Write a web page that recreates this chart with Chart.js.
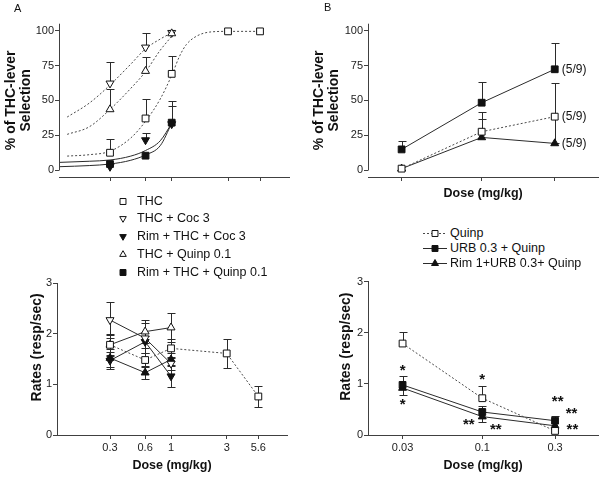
<!DOCTYPE html>
<html lang="en">
<head>
<meta charset="utf-8">
<title>THC-lever selection and response rates</title>
<script src="https://cdn.jsdelivr.net/npm/chart.js@4.4.1/dist/chart.umd.min.js"></script>
<style>
  html, body { margin: 0; padding: 0; background: #fff; }
  #fig { position: relative; width: 604px; height: 477px; overflow: hidden;
         font-family: Arial, "Liberation Sans", Helvetica, sans-serif; color: #111; }
  #fig canvas.plot { position: absolute; }
  .tag { position: absolute; font-size: 11px; line-height: 1; }
  .key { position: absolute; font-size: 12.5px; line-height: 16px; white-space: nowrap; }
</style>
</head>
<body>
<div id="fig">
  <canvas id="pctA" class="plot" width="300" height="200" style="left:0;top:0"></canvas>
  <canvas id="pctB" class="plot" width="304" height="205" style="left:300px;top:0"></canvas>
  <canvas id="rateA" class="plot" width="300" height="207" style="left:0;top:270px"></canvas>
  <canvas id="rateB" class="plot" width="304" height="207" style="left:300px;top:270px"></canvas>
  <div class="tag" style="left:14px;top:3px">A</div>
  <div class="tag" style="left:324px;top:2px">B</div>
  <div id="keyA"></div>
  <div id="keyB"></div>
</div>
<script>
// ---------- data ----------

const seriesA = ['THC', 'THC + Coc 3', 'Rim + THC + Coc 3', 'THC + Quinp 0.1', 'Rim + THC + Quinp 0.1'];
const seriesB = ['Quinp', 'URB 0.3 + Quinp', 'Rim 1+URB 0.3+ Quinp'];

const dosesA = [0.3, 0.6, 1, 3, 5.6];
const doseLabelsA = ['0.3', '0.6', '1', '3', '5.6'];
const dosesB = [0.03, 0.1, 0.3];
const doseLabelsB = ['0.03', '0.1', '0.3'];
const pctTicks = [0, 25, 50, 75, 100];
const rateTicks = [0, 1, 2, 3];

// panel A, % THC-lever selection (SEM shown upward only)
const thcPct = [12.4, 37, 69, 99.5, 99.5];
const thcPctErr = [9.6, 14, 13, 0, 0];
const cocPct = [62.2, 88, 98.5];
const cocPctErr = [15, 10.6, 0];
const rimCocPct = [2.4, 21.5, 33];
const rimCocPctErr = [0, 5, 13];
const quinpPct = [43.5, 71, 98];
const quinpPctErr = [14.5, 10, 0];
const rimQuinpPct = [4.3, 10.3, 34];
const rimQuinpPctErr = [0, 0, 15.5];

// fitted dose-effect curves
const fitDoses = [0.13, 0.2, 0.3, 0.45, 0.6, 0.8, 1];
const thcFitDoses = [0.13, 0.2, 0.3, 0.45, 0.6, 0.8, 1, 1.17, 1.33, 1.62, 2.1, 3, 5.6];
const thcFit = [10, 11, 13.5, 23, 35, 51, 68, 82, 90, 96, 99, 99.5, 99.5];
const cocFit = [38, 48, 61, 76, 87, 94, 98.5];
const quinpFit = [25.6, 31, 43.5, 58.6, 70.6, 86, 96];
const rimFitDoses = [0.113, 0.2, 0.3, 0.45, 0.6, 0.8, 1];
const rimCocFit = [5.5, 6.3, 7.2, 10, 14, 21, 33.5];
const rimQuinpFit = [2.4, 3.2, 4.3, 7, 10.8, 17.5, 33.5];

// panel A, response rates (resp/sec, +/- SEM)
const thcRate = [1.78, 1.48, 1.71, 1.61, 0.76];
const thcRateErr = [0.22, 0.13, 0.19, 0.28, 0.21];
const cocRate = [2.27, 1.91, 1.41];
const cocRateErr = [0.36, 0.3, 0.12];
const rimCocRate = [1.47, 1.84, 1.16];
const rimCocRateErr = [0.16, 0.12, 0.22];
const quinpRate = [1.78, 2.04, 2.12];
const quinpRateErr = [0.2, 0.23, 0.28];
const rimQuinpRate = [1.52, 1.23, 1.49];
const rimQuinpRateErr = [0.18, 0.13, 0.13];

// panel B, % THC-lever selection
const quinpPctB = [1, 27.5, 38.3];
const quinpPctBUp = [0, 14, 24.4];
const quinpPctBDown = [0, 0, 19.2];
const urbPctB = [14.8, 48.3, 72.3];
const urbPctBUp = [6.2, 15.1, 19.1];
const rimUrbPctB = [1, 23.4, 19.1];
const rimUrbPctBUp = [0, 13.5, 0];
const respondersB = ['(5/9)', '(5/9)', '(5/9)'];

// panel B, response rates
const quinpRateB = [1.79, 0.72, 0.08];
const quinpRateBUp = [0.23, 0.23, 0];
const urbRateB = [0.98, 0.45, 0.28];
const urbRateBUp = [0.18, 0.11, 0.09];
const rimUrbRateB = [0.92, 0.36, 0.18];
const rimUrbRateBDown = [0.13, 0.1, 0];

// significance marks: [dose, rate, text]
const starNotes = [
  [0.03, 1.305, '*'], [0.03, 0.65, '*'], [0.1, 1.14, '*'],
  [0.0815, 0.26, '**'], [0.1225, 0.15, '**'],
  [0.312, 0.70, '**'], [0.385, 0.475, '**'], [0.39, 0.16, '**']
];

// ---------- look ----------
const INK = '#111';
const AXIS = '#404040';
const LINE = '#2b2b2b';
const DOT = '#4a4a4a';
const FONT = 'Arial, "Liberation Sans", Helvetica, sans-serif';

Chart.defaults.font.family = FONT;
Chart.defaults.color = INK;

const pts = (xs, ys) => ys.map((y, i) => ({ x: xs[i], y }));

const marker = (style, filled, rot, r) => ({
  pointStyle: style,
  pointRotation: rot,
  pointRadius: r,
  pointHoverRadius: r,
  pointBackgroundColor: filled ? INK : '#fff',
  pointBorderColor: INK,
  pointBorderWidth: 1
});

const openSq = marker('rect', false, 0, 4.8);
const fillSq = marker('rect', true, 0, 4.8);
const openDown = marker('triangle', false, 180, 4.6);
const fillDown = marker('triangle', true, 180, 4.6);
const openUp = marker('triangle', false, 0, 4.6);
const fillUp = marker('triangle', true, 0, 4.6);

const solid = { showLine: true, borderColor: LINE, borderWidth: 1 };
const dotted = { showLine: true, borderColor: DOT, borderWidth: 1, borderDash: [2, 2] };

function fitLine(xs, ys, dashed) {
  return {
    data: pts(xs, ys),
    ...(dashed ? dotted : solid),
    pointRadius: 0,
    pointHoverRadius: 0,
    tension: 0.4,
    cubicInterpolationMode: 'monotone'
  };
}

// ---------- plugins ----------
const errorBars = {
  id: 'errorBars',
  beforeDatasetsDraw(chart) {
    const { ctx, scales: { x, y } } = chart;
    ctx.save();
    ctx.strokeStyle = LINE;
    ctx.lineWidth = 1;
    chart.data.datasets.forEach(ds => {
      ds.data.forEach((p, j) => {
        const px = Math.round(x.getPixelForValue(p.x)) + 0.5;
        const py = y.getPixelForValue(p.y);
        [[ds.errUp, 1], [ds.errDown, -1]].forEach(([errs, dir]) => {
          const e = errs ? errs[j] : 0;
          if (!e) return;
          const ey = Math.round(y.getPixelForValue(p.y + dir * e)) + 0.5;
          ctx.beginPath();
          ctx.moveTo(px, py);
          ctx.lineTo(px, ey);
          ctx.moveTo(px - 4, ey);
          ctx.lineTo(px + 4, ey);
          ctx.stroke();
        });
      });
    });
    ctx.restore();
  }
};

// y axis line that stops at 0 (x axis sits a little lower)
const yStub = {
  id: 'yStub',
  afterDraw(chart) {
    const { ctx, chartArea, scales: { y } } = chart;
    const x = Math.round(chartArea.left - 0.5) + 0.5;
    ctx.save();
    ctx.strokeStyle = AXIS;
    ctx.lineWidth = 1;
    ctx.beginPath();
    ctx.moveTo(x, Math.round(y.getPixelForValue(0)) + 0.5);
    ctx.lineTo(x, chartArea.top);
    ctx.stroke();
    ctx.restore();
  }
};

const endLabels = {
  id: 'endLabels',
  afterDatasetsDraw(chart) {
    const { ctx, scales: { x, y } } = chart;
    ctx.save();
    ctx.font = '12px ' + FONT;
    ctx.fillStyle = INK;
    ctx.textBaseline = 'middle';
    chart.data.datasets.forEach(ds => {
      if (!ds.endLabel) return;
      const p = ds.data[ds.data.length - 1];
      ctx.fillText(ds.endLabel, x.getPixelForValue(p.x) + 7, y.getPixelForValue(p.y));
    });
    ctx.restore();
  }
};

const starMarks = items => ({
  id: 'starMarks',
  afterDatasetsDraw(chart) {
    const { ctx, scales: { x, y } } = chart;
    ctx.save();
    ctx.font = 'bold 15px ' + FONT;
    ctx.fillStyle = INK;
    ctx.textAlign = 'center';
    ctx.textBaseline = 'alphabetic';
    items.forEach(([d, v, s]) => {
      const m = ctx.measureText(s);
      const off = (m.actualBoundingBoxAscent - m.actualBoundingBoxDescent) / 2;
      ctx.fillText(s, x.getPixelForValue(d), y.getPixelForValue(v) + off);
    });
    ctx.restore();
  }
});

// ---------- axes ----------
function doseAxis(min, max, ticks, labels, height, title) {
  return {
    type: 'logarithmic',
    min, max,
    afterBuildTicks: s => { s.ticks = ticks.map(v => ({ value: v })); },
    afterFit: s => { s.height = height; },
    grid: { drawOnChartArea: false, drawTicks: true, tickLength: 4, color: AXIS },
    border: { display: true, color: AXIS },
    ticks: {
      display: !!labels, autoSkip: false, maxRotation: 0, padding: 2,
      color: '#222', font: { size: 11 },
      callback: (v, i) => (labels ? labels[i] : '')
    },
    title: {
      display: !!title, text: title || '', color: INK,
      font: { size: 12.5, weight: 'bold' },
      padding: { top: 0, bottom: 3.6 }
    }
  };
}

function valueAxis(min, max, ticks, width, title, titlePad, border) {
  return {
    type: 'linear',
    min, max,
    afterBuildTicks: s => { s.ticks = ticks.map(v => ({ value: v })); },
    afterFit: s => { s.width = width; },
    grid: { drawOnChartArea: false, drawTicks: true, tickLength: 4, color: AXIS },
    border: { display: border, color: AXIS },
    ticks: { padding: 1, color: '#222', font: { size: 11 } },
    title: {
      display: true, text: title, color: INK,
      font: { size: 14, weight: 'bold', lineHeight: 1.1 },
      padding: { top: titlePad, bottom: 0 }
    }
  };
}

function baseOptions(padding, x, y) {
  return {
    responsive: false,
    animation: false,
    devicePixelRatio: 1,
    layout: { padding },
    scales: { x, y },
    plugins: { legend: { display: false }, tooltip: { enabled: false } },
    events: []
  };
}

// ---------- panel A, % THC-lever ----------
new Chart(document.getElementById('pctA'), {
  type: 'scatter',
  data: {
    datasets: [
      { label: seriesA[2], data: pts(dosesA, rimCocPct), errUp: rimCocPctErr, showLine: false, ...fillDown },
      { label: seriesA[4], data: pts(dosesA, rimQuinpPct), errUp: rimQuinpPctErr, showLine: false, ...fillSq },
      { label: seriesA[0], data: pts(dosesA, thcPct), errUp: thcPctErr, showLine: false, ...openSq },
      { label: seriesA[3], data: pts(dosesA, quinpPct), errUp: quinpPctErr, showLine: false, ...openUp },
      { label: seriesA[1], data: pts(dosesA, cocPct), errUp: cocPctErr, showLine: false, ...openDown },
      fitLine(thcFitDoses, thcFit, true),
      fitLine(fitDoses, cocFit, true),
      fitLine(fitDoses, quinpFit, true),
      fitLine(rimFitDoses, rimCocFit, false),
      fitLine(rimFitDoses, rimQuinpFit, false)
    ]
  },
  options: baseOptions(
    { left: 0, right: 11, top: 23.7, bottom: 0 },
    doseAxis(0.1109, 9.86, dosesA, null, 23, null),
    valueAxis(-5, 105, pctTicks, 59, ['% of THC-lever', 'Selection'], 3.3, false)
  ),
  plugins: [errorBars, yStub]
});

// ---------- panel B, % THC-lever ----------
new Chart(document.getElementById('pctB'), {
  type: 'scatter',
  data: {
    datasets: [
      { label: seriesB[0], data: pts(dosesB, quinpPctB), errUp: quinpPctBUp, errDown: quinpPctBDown,
        endLabel: respondersB[0], ...dotted, ...openSq },
      { label: seriesB[1], data: pts(dosesB, urbPctB), errUp: urbPctBUp,
        endLabel: respondersB[1], ...solid, ...fillSq },
      { label: seriesB[2], data: pts(dosesB, rimUrbPctB), errUp: rimUrbPctBUp,
        endLabel: respondersB[2], ...solid, ...fillUp }
    ]
  },
  options: baseOptions(
    { left: 0, right: 3, top: 23.7, bottom: 0 },
    doseAxis(0.0181, 0.5767, dosesB, null, 28, 'Dose (mg/kg)'),
    valueAxis(-5, 105, pctTicks, 68, ['% of THC-lever', 'Selection'], 11.3, false)
  ),
  plugins: [errorBars, yStub, endLabels]
});

// ---------- panel A, rates ----------
new Chart(document.getElementById('rateA'), {
  type: 'scatter',
  data: {
    datasets: [
      { label: seriesA[0], data: pts(dosesA, thcRate), errUp: thcRateErr, errDown: thcRateErr, ...dotted, ...openSq },
      { label: seriesA[1], data: pts(dosesA, cocRate), errUp: cocRateErr, errDown: cocRateErr, ...solid, ...openDown },
      { label: seriesA[3], data: pts(dosesA, quinpRate), errUp: quinpRateErr, errDown: quinpRateErr, ...solid, ...openUp },
      { label: seriesA[2], data: pts(dosesA, rimCocRate), errUp: rimCocRateErr, errDown: rimCocRateErr, ...solid, ...fillDown },
      { label: seriesA[4], data: pts(dosesA, rimQuinpRate), errUp: rimQuinpRateErr, errDown: rimQuinpRateErr, ...solid, ...fillUp }
    ]
  },
  options: baseOptions(
    { left: 0, right: 13, top: 13, bottom: 0 },
    doseAxis(0.1054, 9.86, dosesA, doseLabelsA, 42, 'Dose (mg/kg)'),
    valueAxis(0, 3, rateTicks, 57, '      Rates (resp/sec)', 29.3, true)
  ),
  plugins: [errorBars]
});

// ---------- panel B, rates ----------
new Chart(document.getElementById('rateB'), {
  type: 'scatter',
  data: {
    datasets: [
      { label: seriesB[0], data: pts(dosesB, quinpRateB), errUp: quinpRateBUp, ...dotted, ...openSq },
      { label: seriesB[1], data: pts(dosesB, urbRateB), errUp: urbRateBUp, ...solid, ...fillSq },
      { label: seriesB[2], data: pts(dosesB, rimUrbRateB), errDown: rimUrbRateBDown, ...solid, ...fillUp }
    ]
  },
  options: baseOptions(
    { left: 0, right: 3, top: 11.7, bottom: 0 },
    doseAxis(0.0178, 0.5758, dosesB, doseLabelsB, 42, 'Dose (mg/kg)'),
    valueAxis(0, 3, rateTicks, 68, '      Rates (resp/sec)', 38.3, true)
  ),
  plugins: [errorBars, starMarks(starNotes)]
});

// ---------- keys ----------
function drawKeyMarker(ctx, m, cx, cy) {
  ctx.fillStyle = m.fill;
  ctx.strokeStyle = INK;
  ctx.lineWidth = 1;
  if (Chart.helpers && Chart.helpers.drawPoint) {
    Chart.helpers.drawPoint(ctx, { pointStyle: m.style, rotation: m.rot, radius: m.r, borderWidth: 1 }, cx, cy);
  } else {
    const s = m.r * 0.7;
    ctx.fillRect(cx - s, cy - s, 2 * s, 2 * s);
    ctx.strokeRect(cx - s, cy - s, 2 * s, 2 * s);
  }
}

function buildKey(hostId, labels, marks, o) {
  const host = document.getElementById(hostId);
  labels.forEach((label, i) => {
    const cy = o.top + i * o.step;
    const m = marks[i];
    const c = document.createElement('canvas');
    c.width = o.markW;
    c.height = 14;
    c.style.position = 'absolute';
    c.style.left = o.markLeft + 'px';
    c.style.top = Math.round(cy - 7) + 'px';
    host.appendChild(c);
    const ctx = c.getContext('2d');
    if (m.line) {
      ctx.strokeStyle = m.dash ? DOT : LINE;
      ctx.lineWidth = 1;
      ctx.setLineDash(m.dash ? [2, 2] : []);
      ctx.beginPath();
      ctx.moveTo(0, 7.5);
      ctx.lineTo(o.markW, 7.5);
      ctx.stroke();
      ctx.setLineDash([]);
    }
    drawKeyMarker(ctx, m, o.markW / 2, 7.5);
    const t = document.createElement('div');
    t.className = 'key';
    t.textContent = label;
    t.style.left = o.textLeft + 'px';
    t.style.top = Math.round(cy - 8) + 'px';
    host.appendChild(t);
  });
}

buildKey('keyA', seriesA, [
  { style: 'rect', rot: 0, r: 4.2, fill: '#fff' },
  { style: 'triangle', rot: 180, r: 3.8, fill: '#fff' },
  { style: 'triangle', rot: 180, r: 3.8, fill: INK },
  { style: 'triangle', rot: 0, r: 3.8, fill: '#fff' },
  { style: 'rect', rot: 0, r: 4.2, fill: INK }
], { top: 200.7, step: 17.7, markLeft: 116, markW: 14, textLeft: 137 });

buildKey('keyB', seriesB, [
  { style: 'rect', rot: 0, r: 4.2, fill: '#fff', line: true, dash: true },
  { style: 'rect', rot: 0, r: 4.2, fill: INK, line: true },
  { style: 'triangle', rot: 0, r: 4, fill: INK, line: true }
], { top: 233.3, step: 15, markLeft: 423, markW: 24, textLeft: 450 });
</script>
</body>
</html>
